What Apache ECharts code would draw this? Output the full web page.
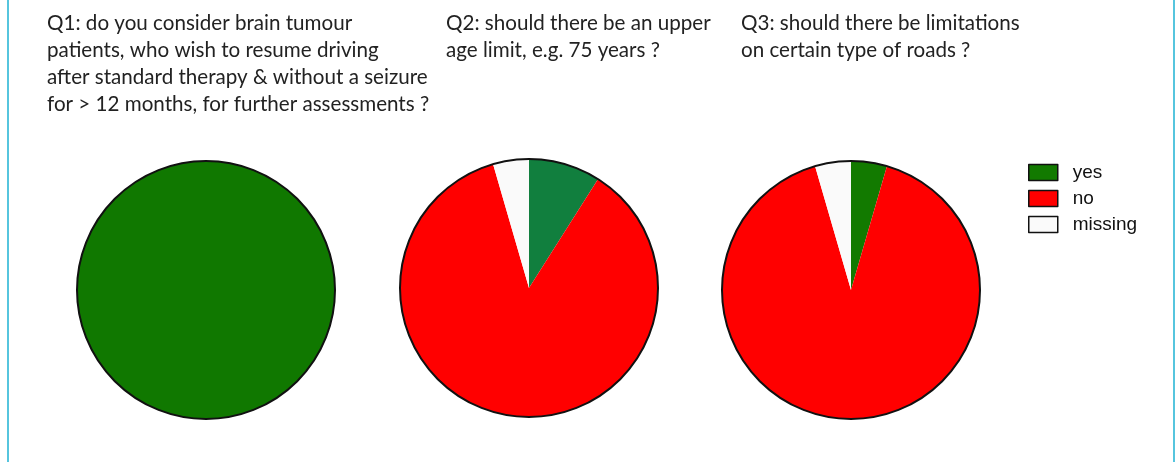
<!DOCTYPE html>
<html>
<head>
<meta charset="utf-8">
<script src="https://cdn.jsdelivr.net/npm/echarts@6/dist/echarts.min.js"></script>
<style>
html,body{margin:0;padding:0;background:#fff;}
#chart{width:1176px;height:462px;position:absolute;left:0;top:0;}
#frame{position:absolute;left:7px;top:0;width:1164px;height:462px;border-left:2px solid #56c5de;border-right:2px solid #56c5de;pointer-events:none;}
</style>
</head>
<body>
<div id="chart"></div>
<div id="frame"></div>
<script>
// ---- data (percent of respondents) ----
const categories = ['yes', 'no', 'missing'];
const questions = [
  'Q1: do you consider brain tumour\npatients, who wish to resume driving\nafter standard therapy & without a seizure\nfor > 12 months, for further assessments ?',
  'Q2: should there be an upper\nage limit, e.g. 75 years ?',
  'Q3: should there be limitations\non certain type of roads ?'
];
const q1Values = [100, 0, 0];
const q2Values = [9, 86.5, 4.5];
const q3Values = [4.5, 91, 4.5];

// ---- styles ----
const legendColors = ['#127a00', '#ff0000', '#fafafa'];
const q1Colors = ['#107800', '#ff0000', '#fafafa'];
const q2Colors = ['#117f3e', '#ff0000', '#fafafa'];
const q3Colors = ['#127a00', '#ff0000', '#fafafa'];
const titleLeft = [42, 441, 736];
const pieCenters = [[206, 290], [529, 288], [851, 290]];
const R = 129;

const seriesValues = [q1Values, q2Values, q3Values];
const seriesColors = [q1Colors, q2Colors, q3Colors];

const titles = questions.map((t, i) => ({
  text: t,
  left: titleLeft[i],
  top: 5,
  textStyle: {
    fontFamily: 'Lato',
    fontSize: 20.6,
    fontWeight: 'normal',
    lineHeight: 27,
    color: '#222'
  }
}));

const series = [];
seriesValues.forEach((vals, i) => {
  series.push({
    name: 'Q' + (i + 1),
    type: 'pie',
    center: pieCenters[i],
    radius: R,
    startAngle: 90,
    clockwise: true,
    silent: true,
    label: { show: false },
    labelLine: { show: false },
    emphasis: { disabled: true },
    stillShowZeroSum: true,
    data: categories.map((c, k) => ({
      name: c,
      value: vals[k],
      itemStyle: { color: seriesColors[i][k], borderWidth: 0 }
    })).filter(d => d.value > 0)
  });
  // outline ring around the whole pie
  series.push({
    type: 'pie',
    center: pieCenters[i],
    radius: R,
    silent: true,
    z: 3,
    label: { show: false },
    labelLine: { show: false },
    emphasis: { disabled: true },
    data: [{
      name: 'outline' + i,
      value: vals.reduce((a, b) => a + b, 0),
      itemStyle: { color: 'rgba(0,0,0,0)', borderColor: '#111', borderWidth: 2 }
    }]
  });
});

const chart = echarts.init(document.getElementById('chart'), null, { renderer: 'canvas' });
chart.setOption({
  animation: false,
  backgroundColor: '#fff',
  title: titles,
  legend: {
    orient: 'vertical',
    left: 1023,
    top: 158,
    itemWidth: 29,
    itemHeight: 16,
    itemGap: 7,
    icon: 'rect',
    selectedMode: false,
    textStyle: { fontFamily: 'Liberation Sans', fontSize: 19, color: '#111', padding: [0, 0, 0, 10] },
    data: categories.map((c, k) => ({
      name: c,
      itemStyle: { color: legendColors[k], borderColor: '#111', borderWidth: 1.5 }
    }))
  },
  series: series
});
</script>
</body>
</html>
